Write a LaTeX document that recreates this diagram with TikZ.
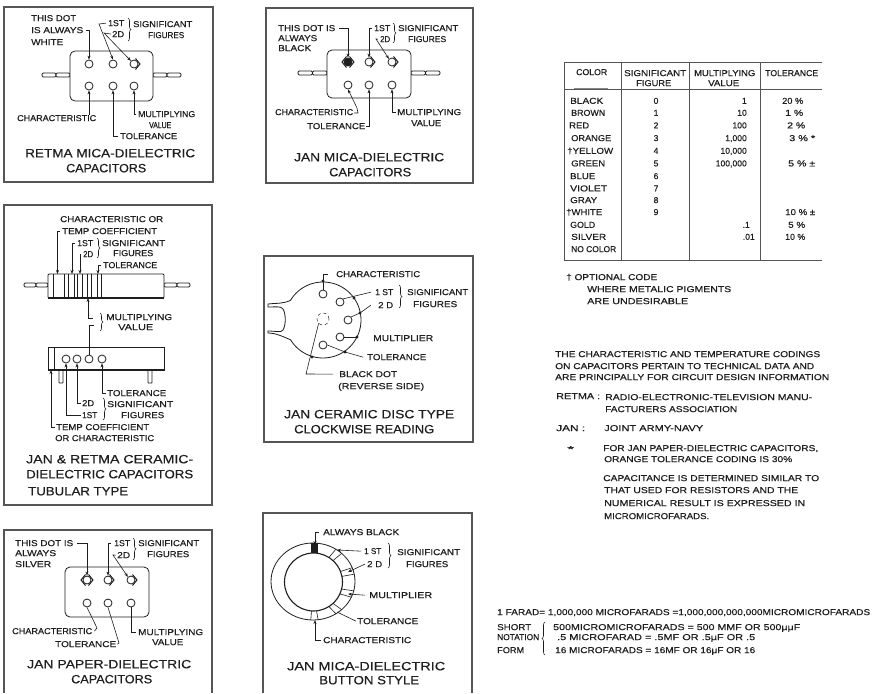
\documentclass[tikz,border=0pt]{standalone}
\usepackage{fontspec}
\usepackage{graphicx}
\usetikzlibrary{arrows.meta,decorations.pathreplacing}
\setmainfont{Liberation Sans}[FakeBold=0.35]
\definecolor{ink}{HTML}{1E1E1E}
\definecolor{frame}{HTML}{555555}
\tikzset{
  txt/.style={inner sep=0pt,text=ink},
  panel/.style={draw=frame,line width=1.3pt},
  body/.style={draw=ink,line width=0.8pt,fill=white},
  leader/.style={draw=ink,line width=0.6pt},
  arr/.style={leader,-{Stealth[length=4pt,width=3pt]}},
  dotc/.style={circle,draw=ink,line width=0.8pt,fill=white,minimum size=8pt,inner sep=0pt},
  chev/.style={draw=ink,line width=1pt},
  brc/.style={draw=ink,line width=0.6pt,decorate,decoration={brace,amplitude=3pt}},
  blob/.style={circle,fill=ink,inner sep=0pt,minimum size=3.4pt},
  rulel/.style={draw=frame,line width=0.9pt},
}
\newcommand{\lfont}{\fontsize{8.6}{9}\selectfont}
\newcommand{\tfont}{\fontsize{12}{12}\selectfont}
% name, x0, x1, y-centre, text
\newcommand{\lab}[5]{\node[txt,anchor=base west] (#1) at (#2,#4+3.1) {\resizebox{\dimexpr#3pt-#2pt\relax}{\height}{\lfont #5}};}
\newcommand{\ttl}[5]{\node[txt,anchor=base west] (#1) at (#2,#4+4.3) {\resizebox{\dimexpr#3pt-#2pt\relax}{\height}{\tfont #5}};}
% wire lead: x0,x1,y
\newcommand{\wire}[3]{\draw[body,rounded corners=1.2pt] (#1,#3-2) rectangle ({(#1+#2)/2},#3+2);\draw[body,rounded corners=1.2pt] ({(#1+#2)/2},#3-2) rectangle (#2,#3+2);}
\newcommand{\chevr}[1]{\draw[chev] ([shift={(1.5,-5.5)}]#1.center) -- ([shift={(6,0)}]#1.center) -- ([shift={(1.5,5.5)}]#1.center);}
\newcommand{\chevl}[1]{\draw[chev] ([shift={(-1.5,-5.5)}]#1.center) -- ([shift={(-6,0)}]#1.center) -- ([shift={(-1.5,5.5)}]#1.center);}
\begin{document}
\begin{tikzpicture}[x=1pt,y=-1pt]
\path[clip] (0,0) rectangle (872,693);
\fill[white] (0,0) rectangle (872,693);

%% ---------- Panel 1 : RETMA mica
\draw[panel] (4,7) rectangle (213,182);
\wire{42}{70}{75}\wire{153}{181}{75}
\draw[body,rounded corners=5pt] (70,51) rectangle (153,101);
\foreach \n/\x/\y in {a/89/64,b/113/64,c/134/64,d/89/86,e/113/86,f/134/86}{\node[dotc] (p1\n) at (\x,\y) {};}
\chevr{p1c}
\lab{p1t1}{31}{76}{18}{THIS DOT}
\lab{p1t2}{31}{83}{30}{IS ALWAYS}
\lab{p1t3}{31}{63}{42}{WHITE}
\lab{p1s1}{108}{124}{23}{1ST}
\lab{p1s2}{112}{124}{34}{2D}
\lab{p1s3}{133}{192}{24}{SIGNIFICANT}
\lab{p1s4}{148}{184}{35}{FIGURES}
\lab{p1c1}{17}{96}{118}{CHARACTERISTIC}
\lab{p1c2}{120}{177}{136}{TOLERANCE}
\lab{p1c3}{138}{195}{114}{MULTIPLYING}
\lab{p1c4}{149}{171}{125}{VALUE}
\ttl{p1h1}{25}{195}{153}{RETMA  MICA-DIELECTRIC}
\ttl{p1h2}{66}{146}{168}{CAPACITORS}
\draw[brc] (128,18) -- (128,41);
\draw[arr] ([xshift=-2pt]p1t2.east) ++(5,0) -| (p1a.north);
\coordinate (p1k1) at (99,24);\coordinate (p1k2) at (104,33);
\draw[arr] ([xshift=-2pt]p1s1.west) -- (p1k1) -- (p1b.north);
\draw[arr] ([xshift=-1pt]p1s2.west) -- (p1k2) -- (p1c.north west);
\draw[arr] (p1c1.north -| p1d) -- (p1d.south);
\draw[arr] ([xshift=-2pt]p1c2.west) -| (p1e.south);
\draw[arr] ([xshift=-2pt]p1c3.west) -| (p1f.south);

%% ---------- Panel 2 : JAN mica
\draw[panel] (266,8) rectangle (473,183);
\wire{298}{327}{73}\wire{411}{440}{73}
\draw[body,rounded corners=5pt] (327,50) rectangle (411,98);
\foreach \n/\x/\y in {b/369/62,c/392/62,d/348/85,e/369/85,f/392/85}{\node[dotc] (p2\n) at (\x,\y) {};}
\node[dotc,fill=ink] (p2a) at (348,62) {};
\chevr{p2b}\chevr{p2c}\chevr{p2a}\chevl{p2a}
\lab{p2t1}{278}{335}{28}{THIS DOT IS}
\lab{p2t2}{278}{317}{38}{ALWAYS}
\lab{p2t3}{278}{311}{48}{BLACK}
\lab{p2s1}{374}{390}{28}{1ST}
\lab{p2s2}{380}{390}{39}{2D}
\lab{p2s3}{398}{458}{28}{SIGNIFICANT}
\lab{p2s4}{408}{446}{39}{FIGURES}
\lab{p2c1}{275}{353}{112}{CHARACTERISTIC}
\lab{p2c2}{307}{365}{126}{TOLERANCE}
\lab{p2c3}{397}{461}{112}{MULTIPLYING}
\lab{p2c4}{411}{441}{123}{VALUE}
\ttl{p2h1}{294}{444}{157}{JAN  MICA-DIELECTRIC}
\ttl{p2h2}{329}{411}{172}{CAPACITORS}
\draw[brc] (393,23) -- (393,43);
\draw[arr] ([xshift=4pt]p2t1.east) -| (p2a.north);
\draw[arr] ([xshift=-2pt]p2s1.west) -| (p2b.north);
\coordinate (p2k1) at (376,39);
\draw[arr] ([xshift=-2pt]p2s2.west) -- (p2k1) -- (p2c.north west);
\coordinate (p2k2) at (357,108);\coordinate (p2k3) at (358,113);
\draw[arr] (p2k3) ++(-4,0) -- (p2k3) -- (p2k2) -- (p2d.south);
\draw[arr] ([xshift=1pt]p2c2.east) -| (p2e.south);
\draw[arr] ([xshift=-1.5pt]p2c3.west) -| (p2f.south);

%% ---------- Panel 3 : tubular
\draw[panel] (4,205) rectangle (212,505);
\wire{24}{48}{285}\wire{164}{190}{285}
\draw[body,rounded corners=1pt] (48,274) rectangle (164,298);
\draw[draw=ink,line width=1.4pt] (48,298) -- (164,298);
\foreach \x in {53,64,68,74,77,82,87,91,97,101}{\draw[draw=ink,line width=0.5pt] (\x,274) -- (\x,298);}
\coordinate (p3top1) at (57.5,274);\coordinate (p3top2) at (72,274);\coordinate (p3top3) at (80,274);\coordinate (p3top4) at (98,274);\coordinate (p3bot) at (88,298);
\lab{p3t1}{60}{163}{219}{CHARACTERISTIC OR}
\lab{p3t2}{62}{157}{231}{TEMP COEFFICIENT}
\lab{p3s1}{77}{93}{243}{1ST}
\lab{p3s2}{83}{93}{254}{2D}
\lab{p3s3}{102}{165}{243}{SIGNIFICANT}
\lab{p3s4}{113}{153}{253}{FIGURES}
\lab{p3s5}{103}{157}{265}{TOLERANCE}
\lab{p3m1}{106}{172}{317}{MULTIPLYING}
\lab{p3m2}{118}{153}{327}{VALUE}
\draw[brc] (97,238) -- (97,258);
\draw[brc] (100,313) -- (100,331);
\draw[arr] ([xshift=-2pt]p3t2.west) -| (p3top1);
\draw[arr] ([xshift=-2pt]p3s1.west) -| (p3top2);
\draw[arr] ([xshift=-2pt]p3s2.west) -| (p3top3);
\draw[arr] ([xshift=-2pt]p3s5.west) -| (p3top4);
\coordinate (p3b1) at (93,318);\coordinate (p3b2) at (94,325);
\draw[arr] (p3b1) -| (p3bot);
\draw[body,rounded corners=0.5pt] (59,370) rectangle (63,383);
\draw[body,rounded corners=0.5pt] (148,370) rectangle (152,383);
\draw[body] (48,347) rectangle (164,370);
\draw[draw=ink,line width=1.2pt] (48,370) -- (164,370);
\draw[draw=ink,line width=0.5pt] (54,347) -- (54,370);
\foreach \n/\x in {a/66,b/77,c/89,d/102}{\node[dotc] (p3\n) at (\x,359) {};}
\draw[leader] (p3b2) -| (p3c.north);
\coordinate (p3low) at (51,370);
\lab{p3l1}{107}{166}{393}{TOLERANCE}
\lab{p3l2}{82}{94}{403}{2D}
\lab{p3l3}{82}{97}{415}{1ST}
\lab{p3l4}{107}{173}{404}{SIGNIFICANT}
\lab{p3l5}{121}{164}{415}{FIGURES}
\lab{p3l6}{56}{149}{427}{TEMP COEFFICIENT}
\lab{p3l7}{55}{154}{438}{OR CHARACTERISTIC}
\draw[brc] (103,398) -- (103,420);
\draw[arr] ([xshift=-1.5pt]p3l1.west) -| (p3d.south);
\draw[arr] ([xshift=-1.5pt]p3l2.west) -| (p3b.south);
\draw[arr] ([xshift=-1pt]p3l3.west) -| (p3a.south);
\draw[arr] ([xshift=-1pt]p3l6.west) -| (p3low);
\ttl{p3h1}{26}{193}{459}{JAN \& RETMA  CERAMIC-}
\ttl{p3h2}{26}{193}{474}{DIELECTRIC CAPACITORS}
\ttl{p3h3}{28}{128}{491}{TUBULAR TYPE}

%% ---------- Panel 4 : disc
\draw[panel] (264,256) rectangle (473,442);
\draw[draw=ink,line width=0.8pt] plot[domain=148:-148,samples=70] ({323+38*cos(\x)},{320-38*sin(\x)});
\draw[draw=ink,line width=0.8pt] (291,300) .. controls (284,304) and (276,303) .. (268,304) -- (268,307) .. controls (276,307) and (281,306) .. (283,309) .. controls (286,314) and (286,325) .. (283,330) .. controls (281,333) and (276,331) .. (268,331) -- (268,333) .. controls (276,333) and (284,337) .. (291,340);
\foreach \n/\x/\y in {a/323/294,b/340/302,c/348/320,d/340/337,e/323/345}{\node[dotc] (p4\n) at (\x,\y) {};}
\node[circle,draw=ink,dashed,line width=0.5pt,minimum size=12pt,inner sep=0pt] (p4x) at (323,319) {};
\lab{p4lc}{336}{420}{274}{CHARACTERISTIC}
\lab{p4s1}{375}{393}{292}{1 ST}
\lab{p4s2}{378}{393}{305}{2 D}
\lab{p4s3}{407}{468}{292}{SIGNIFICANT}
\lab{p4s4}{413}{457}{304}{FIGURES}
\lab{p4m}{373}{433}{338}{MULTIPLIER}
\lab{p4t}{367}{426}{357}{TOLERANCE}
\lab{p4b1}{339}{397}{374}{BLACK DOT}
\lab{p4b2}{338}{424}{386}{(REVERSE SIDE)}
\ttl{p4h1}{284}{454}{414}{JAN  CERAMIC DISC TYPE}
\ttl{p4h2}{294}{434}{429}{CLOCKWISE READING}
\draw[brc] (399,285) -- (399,308);
\draw[leader] ([xshift=-8pt]p4lc.west) -| (p4a.north);
\draw[leader] ([xshift=-4pt]p4s1.west) -- (p4b.north east);
\coordinate (p4k1) at (360,313);
\draw[leader] ([xshift=-7pt]p4s2.west) -- (p4k1) -- (p4c.north east);
\coordinate (p4k2) at (357,337);
\draw[leader] (p4d.east) -- (p4k2);
\coordinate (p4k3) at (345,352);
\draw[leader] (p4e.east) -- (p4k3) -- ([xshift=-4pt]p4t.west);
\coordinate (p4k4) at (306,374);
\draw[leader] ([xshift=-6pt]p4b1.west) -- (p4k4) -- (p4x.south west);
\foreach \n/\x/\y in {a/323/281,b/354/298,c/360/313,d/357/337,e/345/352,f/312/357}{\node[blob] (p4q\n) at (\x,\y) {};}

%% ---------- Panel 5 : paper
\draw[panel] (4,693) -- (4,530) -- (212,530) -- (212,693);
\draw[body,rounded corners=5pt] (65,567) rectangle (149,617);
\foreach \n/\x/\y in {a/87/580,b/108/580,c/131/580,d/87/603,e/108/603,f/131/603}{\node[dotc] (p5\n) at (\x,\y) {};}
\chevr{p5a}\chevl{p5a}\chevr{p5b}\chevr{p5c}
\lab{p5t1}{15}{73}{543}{THIS DOT IS}
\lab{p5t2}{15}{56}{553}{ALWAYS}
\lab{p5t3}{15}{51}{564}{SILVER}
\lab{p5s1}{114}{130}{543}{1ST}
\lab{p5s2}{117}{130}{555}{2D}
\lab{p5s3}{138}{199}{543}{SIGNIFICANT}
\lab{p5s4}{147}{189}{554}{FIGURES}
\lab{p5c1}{12}{92}{631}{CHARACTERISTIC}
\lab{p5c2}{55}{116}{644}{TOLERANCE}
\lab{p5c3}{138}{203}{632}{MULTIPLYING}
\lab{p5c4}{152}{183}{642}{VALUE}
\ttl{p5h1}{27}{191}{664}{JAN  PAPER-DIELECTRIC}
\ttl{p5h2}{71}{152}{679}{CAPACITORS}
\draw[brc] (133,538) -- (133,560);
\draw[arr] ([xshift=4pt]p5t1.east) -| (p5a.north);
\draw[arr] ([xshift=-3pt]p5s1.west) -| (p5b.north);
\coordinate (p5k1) at (113,555);
\draw[arr] ([xshift=-1pt]p5s2.west) -- (p5k1) -- (p5c.north west);
\coordinate (p5k2) at (97,628);\coordinate (p5k3) at (119,643);
\draw[leader] (p5d.south) -- (p5k2) -- ([xshift=2pt]p5c1.east);
\draw[leader] (p5e.south) -- (p5k3) -- ([xshift=1pt]p5c2.east);
\draw[leader] ([xshift=-2pt]p5c3.west) -| (p5f.south);

%% ---------- Panel 6 : button
\draw[panel] (263,693) -- (263,513) -- (472,513) -- (472,693);
\draw[draw=ink,line width=0.8pt] (313,581.5) ellipse [x radius=42,y radius=38.5];
\draw[draw=ink,line width=1.1pt] (313.5,582) circle [radius=29];
\foreach \a in {52,16,-19,-52,-88}{
  \draw[draw=ink,line width=0.6pt] ({313+29*cos(\a+5)},{582-29*sin(\a+5)}) -- ({313+42*cos(\a+5)},{581.5-38.5*sin(\a+5)});
  \draw[draw=ink,line width=0.6pt] ({313+29*cos(\a-5)},{582-29*sin(\a-5)}) -- ({313+42*cos(\a-5)},{581.5-38.5*sin(\a-5)});
}
\fill[ink] (311,543) rectangle (318,553);
\coordinate (p6a) at (315,545);\coordinate (p6b) at (337,550);\coordinate (p6c) at (348,572);\coordinate (p6d) at (348,594);\coordinate (p6e) at (337,612);\coordinate (p6f) at (315,620);
\lab{p6t}{323}{399}{532}{ALWAYS BLACK}
\lab{p6s1}{364}{381}{551}{1 ST}
\lab{p6s2}{367}{382}{564}{2 D}
\lab{p6s3}{397}{460}{552}{SIGNIFICANT}
\lab{p6s4}{406}{448}{564}{FIGURES}
\lab{p6m}{369}{432}{595}{MULTIPLIER}
\lab{p6o}{357}{418}{621}{TOLERANCE}
\lab{p6k}{323}{411}{640}{CHARACTERISTIC}
\ttl{p6h1}{287}{445}{666}{JAN  MICA-DIELECTRIC}
\ttl{p6h2}{319}{419}{680}{BUTTON STYLE}
\draw[brc] (388,543) -- (388,568);
\draw[arr] ([xshift=-4pt]p6t.west) -| (p6a);
\draw[arr] ([xshift=-3pt]p6s1.west) -- (p6b);
\draw[arr] ([xshift=-2pt]p6s2.west) -- (p6c);
\draw[arr] ([xshift=-4pt]p6m.west) -- (p6d);
\draw[leader] ([xshift=-1pt]p6o.west) -- (p6e);
\draw[arr] ([xshift=-2pt]p6k.west) -| (p6f);

%% ---------- Table
\draw[rulel] (822,62) -- (564,62) -- (564,260) -- (822,260);
\draw[rulel] (564,89) -- (822,89);
\foreach \x in {621,689,760}{\draw[rulel] (\x,62) -- (\x,260);}
\draw[draw=frame!70,line width=0.8pt] (574,88) -- (608,88);
\lab{th1}{576}{607}{72}{COLOR}
\lab{th2}{624}{686}{73}{SIGNIFICANT}
\lab{th3}{636}{671}{83}{FIGURE}
\lab{th4}{694}{755}{73}{MULTIPLYING}
\lab{th5}{708}{739}{83}{VALUE}
\lab{th6}{765}{818}{73}{TOLERANCE}
\lab{r1}{570}{603}{100.7}{BLACK}
\lab{r2}{571}{605}{112.7}{BROWN}
\lab{r3}{569}{589}{125.3}{RED}
\lab{r4}{571}{611}{138}{ORANGE}
\lab{r5}{567}{613}{150.7}{†YELLOW}
\lab{r6}{571}{605}{163.3}{GREEN}
\lab{r7}{570}{595}{176}{BLUE}
\lab{r8}{570}{607}{188.3}{VIOLET}
\lab{r9}{570}{597}{200}{GRAY}
\lab{r10}{566}{602}{212}{†WHITE}
\lab{r11}{570}{595}{224.7}{GOLD}
\lab{r12}{571}{606}{236.7}{SILVER}
\lab{r13}{571}{616}{249}{NO COLOR}
\foreach \v/\y in {0/100.7,1/112.7,2/125.3,3/138,4/150.7,5/163.3,6/176,7/188.3,8/200,9/212}{
  \node[txt,anchor=base] (sf\v) at (656,\y+3.1) {\lfont \v};}
\node[txt,anchor=base east] (m1) at (747,103.8) {\lfont 1};
\node[txt,anchor=base east] (m2) at (747,115.8) {\lfont 10};
\node[txt,anchor=base east] (m3) at (747,128.4) {\lfont 100};
\node[txt,anchor=base east] (m4) at (747,141.1) {\lfont 1,000};
\node[txt,anchor=base east] (m5) at (747,153.8) {\lfont 10,000};
\node[txt,anchor=base east] (m6) at (747,166.4) {\lfont 100,000};
\node[txt,anchor=base east] (m7) at (750,227.8) {\lfont .1};
\node[txt,anchor=base east] (m8) at (755,239.8) {\lfont .01};
\lab{t1}{782}{803}{100.7}{20 \%}
\lab{t2}{785}{803}{112.7}{1 \%}
\lab{t3}{787}{805}{125.3}{2 \%}
\lab{t4}{789}{815}{138}{3 \% *}
\lab{t5}{788}{815}{163.3}{5 \% ±}
\lab{t6}{785}{815}{212}{10 \% ±}
\lab{t7}{788}{805}{224.7}{5 \%}
\lab{t8}{785}{805}{236.7}{10 \%}
\lab{f1}{566}{657}{277}{† OPTIONAL  CODE}
\lab{f2}{587}{731}{289}{WHERE METALIC PIGMENTS}
\lab{f3}{587}{688}{301}{ARE UNDESIRABLE}

%% ---------- Notes
\lab{n1}{555}{820}{354}{THE CHARACTERISTIC AND TEMPERATURE CODINGS}
\lab{n2}{555}{814}{366}{ON CAPACITORS PERTAIN TO TECHNICAL DATA AND}
\lab{n3}{555}{829}{377}{ARE PRINCIPALLY FOR CIRCUIT DESIGN INFORMATION}
\lab{n4}{556}{600}{396}{RETMA :}
\lab{n5}{605}{812}{397}{RADIO-ELECTRONIC-TELEVISION MANU-}
\lab{n6}{605}{737}{409}{FACTURERS ASSOCIATION}
\lab{n7}{556}{585}{428}{JAN :}
\lab{n8}{604}{703}{428}{JOINT ARMY-NAVY}
\lab{n9}{567}{574}{449}{*}
\lab{n10}{603}{818}{448}{FOR JAN PAPER-DIELECTRIC CAPACITORS,}
\lab{n11}{604}{792}{459}{ORANGE TOLERANCE CODING IS 30\%}
\lab{n12}{603}{819}{478}{CAPACITANCE IS DETERMINED SIMILAR TO}
\lab{n13}{604}{798}{490}{THAT USED FOR RESISTORS AND THE}
\lab{n14}{604}{805}{503}{NUMERICAL RESULT IS EXPRESSED IN}
\lab{n15}{604}{709}{516}{MICROMICROFARADS.}

%% ---------- Farad notes
\lab{b1}{497}{870}{612}{1 FARAD= 1,000,000 MICROFARADS =1,000,000,000,000MICROMICROFARADS}
\lab{b2}{497}{531}{627}{SHORT}
\lab{b3}{497}{539}{637}{NOTATION}
\lab{b4}{497}{524}{650}{FORM}
\lab{b5}{553}{800}{627}{500MICROMICROFARADS = 500 MMF OR 500μμF}
\lab{b6}{557}{755}{637}{.5 MICROFARAD = .5MF OR .5μF OR .5}
\lab{b7}{555}{755}{650}{16 MICROFARADS = 16MF OR 16μF OR 16}
\draw[brc] (545,655) -- (545,622);
\end{tikzpicture}
\end{document}
